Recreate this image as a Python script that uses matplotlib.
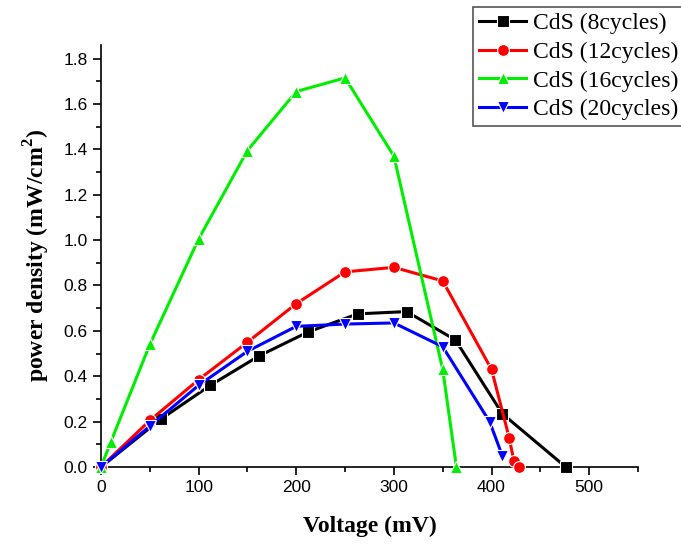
import matplotlib
matplotlib.use("Agg")
import matplotlib.pyplot as plt
from matplotlib.ticker import MultipleLocator

plt.rcParams["mathtext.fontset"] = "custom"
plt.rcParams["mathtext.rm"] = "Liberation Serif"
plt.rcParams["mathtext.bf"] = "Liberation Serif:bold"

x8 = [0, 61, 112, 162, 212, 263, 313, 363, 411, 476]
y8 = [0.0, 0.21, 0.36, 0.49, 0.595, 0.675, 0.685, 0.56, 0.235, 0.0]
x12 = [0, 50, 100, 150, 200, 250, 300, 350, 400, 418, 423, 428]
y12 = [0.0, 0.205, 0.385, 0.55, 0.72, 0.86, 0.88, 0.82, 0.43, 0.13, 0.025, 0.0]
x16 = [0, 10, 50, 100, 150, 200, 250, 300, 350, 364]
y16 = [0.0, 0.11, 0.54, 1.005, 1.395, 1.655, 1.715, 1.37, 0.43, 0.0]
x20 = [0, 50, 100, 150, 200, 250, 300, 350, 398, 411]
y20 = [0.0, 0.18, 0.36, 0.51, 0.62, 0.63, 0.635, 0.53, 0.2, 0.05]
labels = ["CdS (8cycles)", "CdS (12cycles)", "CdS (16cycles)", "CdS (20cycles)"]

fig = plt.figure(figsize=(6.81, 5.44), dpi=100)
ax = fig.add_axes([101/681, 1-467/544, (638-101)/681, (467-45)/544])

series = [(x8, y8, "black", "s"), (x12, y12, "#ff0000", "o"),
          (x16, y16, "#00ee00", "^"), (x20, y20, "#0000ff", "v")]
for (xs, ys, c, m), lab in zip(series, labels):
    ax.plot(xs, ys, color=c, marker=m, markersize=8.5, lw=2.2,
            markeredgecolor="white", markeredgewidth=0.8, label=lab, clip_on=False, zorder=3)

ax.set_xlim(0, 550)
ax.set_ylim(0, 1.86)
ax.xaxis.set_major_locator(MultipleLocator(100))
ax.xaxis.set_minor_locator(MultipleLocator(50))
ax.yaxis.set_minor_locator(MultipleLocator(0.1))
ax.set_yticks([0, 0.2, 0.4, 0.6, 0.8, 1.0, 1.2, 1.4, 1.6, 1.8])
ax.set_yticklabels(["0.0", "0.2", "0.4", "0.6", "0.8", "1.0", "1.2", "1.4", "1.6", "1.8"])
for s in ["top", "right"]:
    ax.spines[s].set_visible(False)
for s in ["left", "bottom"]:
    ax.spines[s].set_linewidth(1.2)
ax.tick_params(which="major", direction="out", length=6, width=1.2, labelsize=12.5)
ax.tick_params(which="minor", direction="out", length=3.5, width=1.2)
for t in ax.get_xticklabels() + ax.get_yticklabels():
    t.set_fontfamily("Liberation Sans")

ax.set_xlabel("Voltage (mV)", fontfamily="Liberation Serif", fontweight="bold", fontsize=17, labelpad=15)
ax.set_ylabel("power density (mW/cm$^\\mathbf{2}$)", fontfamily="Liberation Serif", fontweight="bold", fontsize=17, labelpad=8)

leg = fig.legend(loc="upper left", bbox_to_anchor=(473/681, 1-7/544), prop={"family": "Liberation Serif", "size": 17},
                 frameon=True, fancybox=False, edgecolor="#555555", framealpha=1,
                 handlelength=2.0, handletextpad=0.3, borderpad=0.25, labelspacing=0.3, borderaxespad=0)
leg.get_frame().set_linewidth(1.2)

fig.savefig("out.png", dpi=100)
